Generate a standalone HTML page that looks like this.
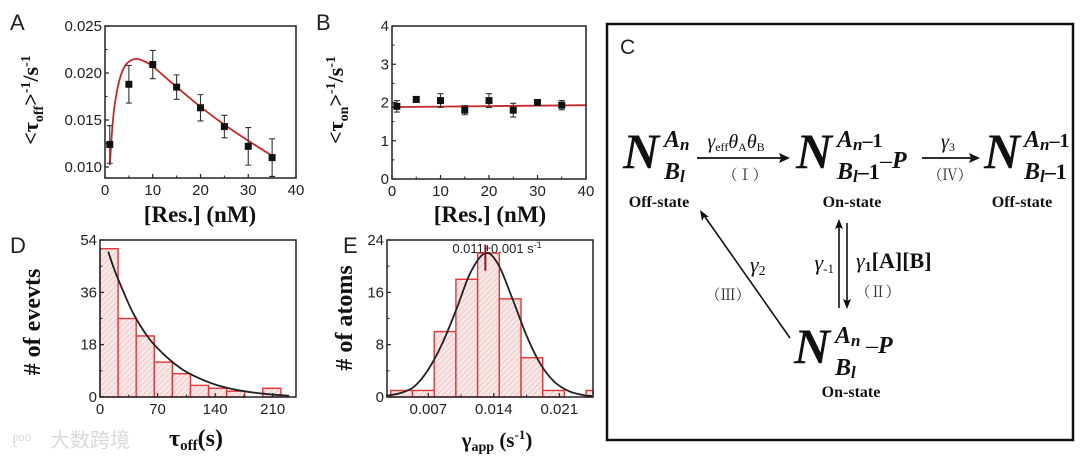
<!DOCTYPE html>
<html><head><meta charset="utf-8">
<style>
html,body{margin:0;padding:0;background:#fff;}
svg{display:block;}
.tk{font-family:"Liberation Sans",Arial,sans-serif;font-size:15px;fill:#222;}
.tt{font-family:"Liberation Serif",serif;font-weight:bold;fill:#111;}
.ser{font-family:"Liberation Serif",serif;fill:#111;}
.rn{font-family:"Noto Serif CJK SC",serif;font-size:15px;fill:#333;}
</style></head>
<body>
<svg id="fig" width="1080" height="462" viewBox="0 0 1080 462" xmlns="http://www.w3.org/2000/svg">
<defs>
<pattern id="hatch" patternUnits="userSpaceOnUse" width="4" height="4" patternTransform="rotate(45)">
<rect width="4" height="4" fill="#fbe6e6"/>
<line x1="0" y1="0" x2="0" y2="4" stroke="#d9b4b4" stroke-width="1"/>
</pattern>
</defs>

<text x="10" y="30" font-family="Liberation Sans,sans-serif" font-size="22" fill="#222">A</text>
<text x="316" y="30" font-family="Liberation Sans,sans-serif" font-size="22" fill="#222">B</text>
<text x="10" y="253" font-family="Liberation Sans,sans-serif" font-size="22" fill="#222">D</text>
<text x="343" y="253" font-family="Liberation Sans,sans-serif" font-size="22" fill="#222">E</text>

<text class="tt" font-size="22" transform="translate(38,100) rotate(-90)" text-anchor="middle">&lt;τ<tspan font-size="14" dy="5">off</tspan><tspan dy="-5">&gt;</tspan><tspan font-size="14" dy="-8">-1</tspan><tspan dy="8">/s</tspan><tspan font-size="14" dy="-8">-1</tspan></text>
<text class="tt" font-size="22" transform="translate(343,100) rotate(-90)" text-anchor="middle">&lt;τ<tspan font-size="14" dy="5">on</tspan><tspan dy="-5">&gt;</tspan><tspan font-size="14" dy="-8">-1</tspan><tspan dy="8">/s</tspan><tspan font-size="14" dy="-8">-1</tspan></text>
<text class="tt" font-size="23" x="200" y="222" text-anchor="middle">[Res.] (nM)</text>
<text class="tt" font-size="23" x="490" y="222" text-anchor="middle">[Res.] (nM)</text>
<text class="tt" font-size="24" transform="translate(40,322) rotate(-90)" text-anchor="middle"># of evevts</text>
<text class="tt" font-size="24" transform="translate(352,318) rotate(-90)" text-anchor="middle"># of atoms</text>
<text class="tt" font-size="24" x="196" y="446" text-anchor="middle">τ<tspan font-size="15" dy="4">off</tspan><tspan dy="-4">(s)</tspan></text>
<text class="tt" font-size="21" x="497" y="447" text-anchor="middle">γ<tspan font-size="14" dy="4">app</tspan><tspan dy="-4"> (s</tspan><tspan font-size="13" dy="-8">-1</tspan><tspan dy="8">)</tspan></text>
<text x="497" y="253" text-anchor="middle" font-family="Liberation Sans,sans-serif" font-size="13" fill="#222">0.011±0.001 s<tspan font-size="9" dy="-5">-1</tspan></text>

<g opacity="0.55">
<text x="12" y="447" font-family="Liberation Sans,sans-serif" font-size="18" fill="#bbb">ℓ<tspan font-size="12" dy="-6">oo</tspan></text>
<text x="50" y="447" font-family="Noto Sans CJK SC,sans-serif" font-size="20" fill="#bbb">大数跨境</text>
</g>

<g>
<rect x="607" y="24" width="466" height="416" fill="none" stroke="#111" stroke-width="2.5"/>
<text x="620" y="54" font-family="Liberation Sans,sans-serif" font-size="21" fill="#222">C</text>

<g>
<text class="ser" x="623" y="168" font-size="50" font-style="italic" font-weight="bold">N</text>
<text class="ser" x="664" y="147" font-size="24" font-style="italic" font-weight="bold">A<tspan font-size="17" dy="3">n</tspan></text>
<text class="ser" x="664" y="179" font-size="24" font-style="italic" font-weight="bold">B<tspan font-size="17" dy="3">l</tspan></text>
<text class="tt" x="659" y="207" font-size="16" text-anchor="middle">Off-state</text>
</g>
<g>
<line x1="697" y1="158" x2="787" y2="158" stroke="#111" stroke-width="1.8"/>
<path d="M790 158 L779 153 L781 158 L779 163 Z" fill="#111"/>
<text class="ser" x="736" y="148" font-size="20" text-anchor="middle"><tspan font-style="italic">γ</tspan><tspan font-size="12" dy="3">eff</tspan><tspan font-style="italic" dy="-3">θ</tspan><tspan font-size="12" dy="3">A</tspan><tspan font-style="italic" dy="-3">θ</tspan><tspan font-size="12" dy="3">B</tspan></text>
<text class="rn" x="745" y="180" text-anchor="middle">（Ⅰ）</text>
</g>
<g>
<text class="ser" x="796" y="168" font-size="50" font-style="italic" font-weight="bold">N</text>
<text class="ser" x="837" y="147" font-size="24" font-style="italic" font-weight="bold">A<tspan font-size="17" dy="3">n</tspan><tspan font-size="20" font-style="normal" dy="-3">–1</tspan></text>
<text class="ser" x="837" y="179" font-size="24" font-style="italic" font-weight="bold">B<tspan font-size="17" dy="3">l</tspan><tspan font-size="22" font-style="normal" dy="-3">–1</tspan></text>
<text class="ser" x="880" y="168" font-size="24" font-style="italic" font-weight="bold"><tspan font-style="normal" font-weight="normal">–</tspan>P</text>
<text class="tt" x="852" y="207" font-size="16" text-anchor="middle">On-state</text>
</g>
<g>
<line x1="922" y1="158" x2="977" y2="158" stroke="#111" stroke-width="1.8"/>
<path d="M980 158 L969 153 L971 158 L969 163 Z" fill="#111"/>
<text class="ser" x="948" y="148" font-size="20" text-anchor="middle"><tspan font-style="italic">γ</tspan><tspan font-size="12" dy="3">3</tspan></text>
<text class="rn" x="950" y="180" text-anchor="middle">（Ⅳ）</text>
</g>
<g>
<text class="ser" x="984" y="168" font-size="50" font-style="italic" font-weight="bold">N</text>
<text class="ser" x="1024" y="147" font-size="24" font-style="italic" font-weight="bold">A<tspan font-size="17" dy="3">n</tspan><tspan font-size="20" font-style="normal" dy="-3">–1</tspan></text>
<text class="ser" x="1024" y="179" font-size="24" font-style="italic" font-weight="bold">B<tspan font-size="17" dy="3">l</tspan><tspan font-size="22" font-style="normal" dy="-3">–1</tspan></text>
<text class="tt" x="1022" y="207" font-size="16" text-anchor="middle">Off-state</text>
</g>
<g>
<line x1="839" y1="308" x2="839" y2="223" stroke="#111" stroke-width="1.6"/>
<path d="M839 219 L835 229 L839 227 L843 229 Z" fill="#111"/>
<line x1="847" y1="223" x2="847" y2="305" stroke="#111" stroke-width="1.6"/>
<path d="M847 309 L843 299 L847 301 L851 299 Z" fill="#111"/>
<text class="ser" x="834" y="270" font-size="22" text-anchor="end"><tspan font-style="italic">γ</tspan><tspan font-size="13" dy="3">-1</tspan></text>
<text class="tt" x="856" y="268" font-size="22"><tspan font-style="italic" font-weight="normal">γ</tspan><tspan font-size="14" dy="3">1</tspan><tspan dy="-3">[A][B]</tspan></text>
<text class="rn" x="878" y="297" text-anchor="middle">（Ⅱ）</text>
</g>
<g>
<line x1="790" y1="338" x2="703" y2="214" stroke="#111" stroke-width="1.6"/>
<path d="M700 210 L702 221 L704 217 L709 217 Z" fill="#111"/>
<text class="ser" x="750" y="272" font-size="22"><tspan font-style="italic">γ</tspan><tspan font-size="14" dy="3">2</tspan></text>
<text class="rn" x="728" y="300" text-anchor="middle">（Ⅲ）</text>
</g>
<g>
<text class="ser" x="794" y="363" font-size="50" font-style="italic" font-weight="bold">N</text>
<text class="ser" x="835" y="343" font-size="24" font-style="italic" font-weight="bold">A<tspan font-size="17" dy="3">n</tspan></text>
<text class="ser" x="835" y="375" font-size="24" font-style="italic" font-weight="bold">B<tspan font-size="17" dy="3">l</tspan></text>
<text class="ser" x="866" y="353" font-size="24" font-style="italic" font-weight="bold"><tspan font-style="normal" font-weight="normal">–</tspan>P</text>
<text class="tt" x="851" y="397" font-size="16" text-anchor="middle">On-state</text>
</g>
</g>
<g id="plots"></g>
</svg>
<script>
// Panel A data
const aX = [1,5,10,15,20,25,30,35];
const aY = [0.0124,0.0188,0.0209,0.0185,0.0163,0.0143,0.0122,0.0110];
const aErr = [0.0020,0.0020,0.0015,0.0013,0.0014,0.0012,0.0020,0.0020];
const aFitX = [1,1.5,2,3,4,5,6.5,8,10,15,20,25,30,35];
const aFitY = [0.0102,0.0140,0.0165,0.0192,0.0206,0.0212,0.0215,0.0213,0.0207,0.0185,0.0164,0.0145,0.0128,0.0112];
const aXTicks = [0,10,20,30,40];
const aYTicks = [0.010,0.015,0.020,0.025];
const aYLabels = ["0.010","0.015","0.020","0.025"];
// Panel B data
const bX = [1,5,10,15,20,25,30,35];
const bY = [1.90,2.08,2.05,1.80,2.05,1.80,2.00,1.93];
const bErr = [0.15,0.05,0.18,0.12,0.18,0.18,0.05,0.12];
const bFitX = [0,40];
const bFitY = [1.88,1.93];
const bXTicks = [0,10,20,30,40];
const bYTicks = [0,1,2,3,4];
// Panel D data
const dBinStart = [0,22,44,66,88,110,132,154,176,198];
const dBinWidth = 22;
const dCounts = [51,27,21,12,8,4,3,2,0,3];
const dFitX = [10,20,40,60,80,100,120,140,160,180,200,230];
const dFitY = [50,42,29,20,14,9.5,6.5,4.3,2.8,1.8,1.1,0.4];
const dXTicks = [0,70,140,210];
const dYTicks = [0,18,36,54];
// Panel E data
const eBinStart = [0.00299,0.00531,0.00763,0.00995,0.01227,0.01459,0.01691,0.01923,0.02155,0.02387];
const eBinWidth = 0.00232;
const eCounts = [1,1,10,18,22,15,6,1,0,1];
const eFitX = [0.0025,0.004,0.0055,0.007,0.0085,0.010,0.0115,0.0131,0.0145,0.016,0.0175,0.019,0.0205,0.022,0.0235,0.0245];
const eFitY = [0.2,0.6,1.6,4.2,8.2,13.4,19.0,22.0,20.2,15.0,9.4,5.0,2.3,0.9,0.3,0.15];
const eXTicks = [0.007,0.014,0.021];
const eXLabels = ["0.007","0.014","0.021"];
const eYTicks = [0,8,16,24];

const NS="http://www.w3.org/2000/svg";
const root=document.getElementById('plots');
function mk(tag,parent,attrs){const e=document.createElementNS(NS,tag);for(const k in attrs)e.setAttribute(k,attrs[k]);parent.appendChild(e);return e;}

const xA=v=>105+v*191/40, yA=v=>26+(0.025-v)/0.015*141;
const xB=v=>392+v*194/40, yB=v=>179-v*153/4;
const xD=v=>100+v*172.7/210, yD=v=>397-v*157/54;
const xE=v=>428.3+(v-0.007)*9357, yE=v=>397-v*157/24;

function smooth(xs,ys,fx,fy){
  const p=xs.map((x,i)=>[fx(x),fy(ys[i])]);
  let d="M"+p[0][0].toFixed(1)+" "+p[0][1].toFixed(1);
  for(let i=0;i<p.length-1;i++){
    const p0=p[i-1]||p[i],p1=p[i],p2=p[i+1],p3=p[i+2]||p2;
    const c1=[p1[0]+(p2[0]-p0[0])/6,p1[1]+(p2[1]-p0[1])/6];
    const c2=[p2[0]-(p3[0]-p1[0])/6,p2[1]-(p3[1]-p1[1])/6];
    d+=" C"+c1[0].toFixed(1)+" "+c1[1].toFixed(1)+" "+c2[0].toFixed(1)+" "+c2[1].toFixed(1)+" "+p2[0].toFixed(1)+" "+p2[1].toFixed(1);
  }
  return d;
}

function frame(g,x0,y0,x1,y1,xt,xl,fx,yt,yl,fy,name){
  const r=mk('rect',g,{x:x0,y:y0,width:x1-x0,height:y1-y0,fill:'none',stroke:'#222','stroke-width':1.5});
  
  
  xt.forEach((v,i)=>{
    const X=fx(v);
    const t=mk('line',g,{x1:X,y1:y1,x2:X,y2:y1-4,stroke:'#222','stroke-width':1.2});
    
    
    if(i<xt.length-1){const m=(v+xt[i+1])/2;const mt=mk('line',g,{x1:fx(m),y1:y1,x2:fx(m),y2:y1-2.5,stroke:'#222','stroke-width':1});
      
      }
    const l=mk('text',g,{x:X,y:y1+17,'text-anchor':'middle',class:'tk'});l.textContent=xl[i];
    
    
  });
  yt.forEach((v,i)=>{
    const Y=fy(v);
    const t=mk('line',g,{x1:x0,y1:Y,x2:x0+4,y2:Y,stroke:'#222','stroke-width':1.2});
    
    
    if(i<yt.length-1){const m=(v+yt[i+1])/2;const mt=mk('line',g,{x1:x0,y1:fy(m),x2:x0+2.5,y2:fy(m),stroke:'#222','stroke-width':1});
      
      }
    const l=mk('text',g,{x:x0-3,y:Y+5,'text-anchor':'end',class:'tk'});l.textContent=yl[i];
    
    
  });
}

function scatter(g,xs,ys,es,fx,fy,name){
  xs.forEach((x,i)=>{
    const X=fx(x),Y=fy(ys[i]),Yt=fy(ys[i]+es[i]),Yb=fy(ys[i]-es[i]);
    const e=mk('path',g,{d:`M${X} ${Yt} V${Yb} M${X-3} ${Yt} H${X+3} M${X-3} ${Yb} H${X+3}`,stroke:'#333','stroke-width':1.1,fill:'none'});
    
    
    const p=mk('rect',g,{x:X-3.5,y:Y-3.5,width:7,height:7,fill:'#111'});
    
    
  });
}

const gA=mk('g',root,{});


const fitA=mk('path',gA,{d:smooth(aFitX,aFitY,xA,yA),fill:'none',stroke:'#c42a2a','stroke-width':1.8});


scatter(gA,aX,aY,aErr,xA,yA,'a');
frame(gA,105,26,296,178,aXTicks,aXTicks.map(String),xA,aYTicks,aYLabels,yA,'a');

const gB=mk('g',root,{});


const fitB=mk('path',gB,{d:`M${xB(bFitX[0])} ${yB(bFitY[0])} L${xB(bFitX[1])} ${yB(bFitY[1])}`,stroke:'#c42a2a','stroke-width':1.8,fill:'none'});


scatter(gB,bX,bY,bErr,xB,yB,'b');
frame(gB,392,26,586,179,bXTicks,bXTicks.map(String),xB,bYTicks,bYTicks.map(String),yB,'b');

const gD=mk('g',root,{});


dCounts.forEach((c,i)=>{
  if(c<=0) return;
  const x0=xD(dBinStart[i]),x1=xD(dBinStart[i]+dBinWidth);
  const b=mk('rect',gD,{x:x0,y:yD(c),width:x1-x0,height:yD(0)-yD(c),fill:'url(#hatch)',stroke:'#e0363a','stroke-width':1.4});
  
  
});
const fitD=mk('path',gD,{d:smooth(dFitX,dFitY,xD,yD),fill:'none',stroke:'#222','stroke-width':1.8});


frame(gD,100,240,296,397,dXTicks,dXTicks.map(String),xD,dYTicks,dYTicks.map(String),yD,'d');

const gE=mk('g',root,{});


eCounts.forEach((c,i)=>{
  if(c<=0) return;
  const x0=xE(eBinStart[i]),x1=Math.min(xE(eBinStart[i]+eBinWidth),593);
  const b=mk('rect',gE,{x:x0,y:yE(c),width:x1-x0,height:yE(0)-yE(c),fill:'url(#hatch)',stroke:'#e0363a','stroke-width':1.4});
  
  
});
const fitE=mk('path',gE,{d:smooth(eFitX,eFitY,xE,yE),fill:'none',stroke:'#222','stroke-width':1.8});


const pk=mk('line',gE,{x1:xE(0.0131),y1:yE(23.3),x2:xE(0.0131),y2:yE(19.3),stroke:'#8b1a1a','stroke-width':2});


frame(gE,387,240,593,397,eXTicks,eXLabels,xE,eYTicks,eYTicks.map(String),yE,'e');
</script>
</body></html>
